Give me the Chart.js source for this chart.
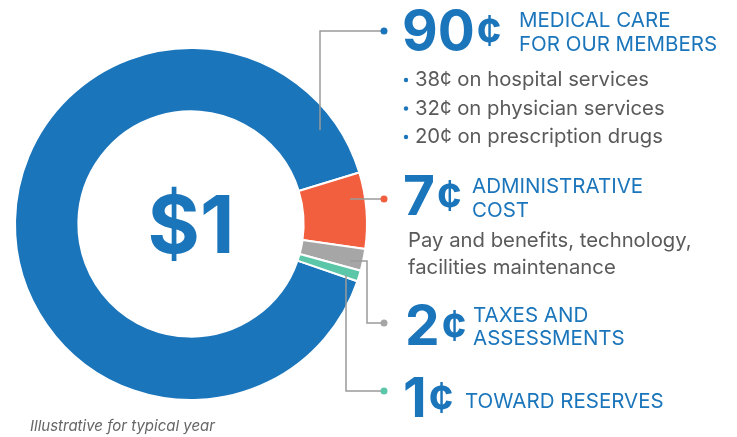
<!DOCTYPE html>
<html>
<head>
<meta charset="utf-8">
<script src="https://cdn.jsdelivr.net/npm/chart.js@4"></script>
<style>
  html, body { margin: 0; padding: 0; background: #fff; }
  #wrap { position: relative; width: 737px; height: 437px; }
</style>
</head>
<body>
<div id="wrap"><canvas id="dollarChart" width="737" height="437"></canvas></div>
<script>
// Where each dollar goes (cents)
const categories = ['Medical care for our members', 'Administrative cost', 'Taxes and assessments', 'Toward reserves'];
const cents = [90, 7, 2, 1];
const sliceColors = ['#1b75bb', '#f15f3f', '#a6a6a6', '#5cc6a8'];
const medicalBreakdown = ['38¢ on hospital services', '32¢ on physician services', '20¢ on prescription drugs'];
const adminDetail = ['Pay and benefits, technology,', 'facilities maintenance'];

const BLUE = '#1b75bb';
const GREY_TEXT = '#5a5a5a';
const LINE = '#9a9a9a';
const FONT = 'Inter, "Open Sans", sans-serif';

// labels, leader lines and the centre text
const annotations = {
  id: 'annotations',
  afterDraw(chart) {
    const ctx = chart.ctx;
    const arcs = chart.getDatasetMeta(0).data;
    ctx.save();

    // centre "$1"
    const c = arcs[0];
    ctx.fillStyle = BLUE;
    ctx.font = 'bold 80px ' + FONT;
    ctx.textAlign = 'center';
    ctx.textBaseline = 'alphabetic';
    ctx.fillText('$1', c.x, 253);

    // leader lines
    ctx.strokeStyle = LINE;
    ctx.lineWidth = 1.5;
    const leaders = [
      [[320, 130], [320, 31], [384, 31]],
      [[350, 199], [384, 199]],
      [[350, 261], [367, 261], [367, 323], [384, 323]],
      [[346, 275], [346, 391], [384, 391]]
    ];
    leaders.forEach((pts, i) => {
      ctx.beginPath();
      ctx.moveTo(pts[0][0], pts[0][1]);
      for (let k = 1; k < pts.length; k++) ctx.lineTo(pts[k][0], pts[k][1]);
      ctx.stroke();
      const end = pts[pts.length - 1];
      ctx.fillStyle = sliceColors[i];
      ctx.beginPath();
      ctx.arc(end[0], end[1], 3.5, 0, Math.PI * 2);
      ctx.fill();
    });

    ctx.textAlign = 'left';
    // big number plus a smaller cent sign
    const big = (val, x, y) => {
      ctx.fillStyle = BLUE;
      ctx.font = 'bold 55px ' + FONT;
      ctx.fillText(String(val), x, y);
      const w = ctx.measureText(String(val)).width;
      ctx.font = 'bold 42px ' + FONT;
      ctx.fillText('¢', x + w + 2, y - 4);
    };
    const head = (lines, x, y0, dy) => {
      ctx.fillStyle = BLUE;
      ctx.font = '20.5px ' + FONT;
      lines.forEach((l, i) => ctx.fillText(l, x, y0 + i * dy));
    };

    big(cents[0], 402, 50);
    head(['MEDICAL CARE', 'FOR OUR MEMBERS'], 519, 27, 24);
    ctx.font = '20.3px ' + FONT;
    medicalBreakdown.forEach((t, i) => {
      const y = 86 + i * 28.5;
      ctx.fillStyle = BLUE;
      ctx.beginPath();
      ctx.arc(406, y - 6, 2.2, 0, Math.PI * 2);
      ctx.fill();
      ctx.fillStyle = GREY_TEXT;
      ctx.fillText(t, 415, y);
    });

    big(cents[1], 403, 215);
    head(['ADMINISTRATIVE', 'COST'], 472, 193, 24);
    ctx.fillStyle = GREY_TEXT;
    ctx.font = '20.3px ' + FONT;
    adminDetail.forEach((t, i) => ctx.fillText(t, 408, 247 + i * 27));

    big(cents[2], 405, 345);
    head(['TAXES AND', 'ASSESSMENTS'], 473, 322, 23);

    big(cents[3], 403, 417);
    head(['TOWARD RESERVES'], 465, 408, 0);

    ctx.fillStyle = '#666';
    ctx.font = 'italic 15px ' + FONT;
    ctx.fillText('Illustrative for typical year', 30, 431);
    ctx.restore();
  }
};

new Chart(document.getElementById('dollarChart'), {
  type: 'doughnut',
  data: {
    labels: categories,
    datasets: [{
      data: cents,
      backgroundColor: sliceColors,
      borderColor: '#ffffff',
      borderWidth: 2,
      hoverOffset: 0
    }]
  },
  options: {
    responsive: false,
    animation: false,
    rotation: 109,
    cutout: '64%',
    layout: { padding: { left: 14, right: 369, top: 47, bottom: 36 } },
    plugins: {
      legend: { display: false },
      tooltip: { enabled: false }
    }
  },
  plugins: [annotations]
});
</script>
</body>
</html>
